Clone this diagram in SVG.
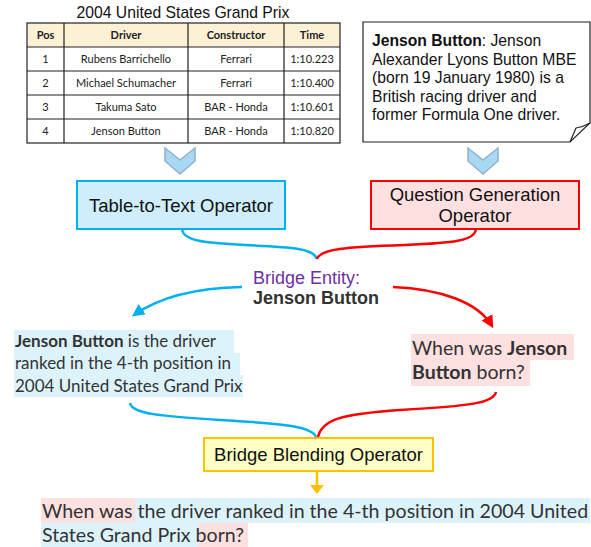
<svg xmlns="http://www.w3.org/2000/svg" width="591" height="547" viewBox="0 0 591 547">
<style>
.arial{font-family:"Liberation Sans",Arial,sans-serif}
.ss{font-family:Lato,"Open Sans",sans-serif}
.cell{font-family:Lato,sans-serif;font-size:11px;fill:#222;text-anchor:middle}
.hdr{font-weight:bold}
.grid{stroke:#222;stroke-width:1.2;fill:none}
.chev{fill:#a9d8f2;stroke:#8fb2cc;stroke-width:1.5}
.blue{stroke:#00b0f0;stroke-width:2.5;fill:none}
.red{stroke:#ff0000;stroke-width:2.5;fill:none}
.hb{fill:#ddf3fc}
.hp{fill:#fde0e0}
</style>
<defs>
<marker id="ab" viewBox="0 0 10 10" refX="8" refY="5" markerWidth="5" markerHeight="5" orient="auto" markerUnits="strokeWidth"><path d="M0,0 L10,5 L0,10 Z" fill="#00b0f0"/></marker>
<marker id="ar" viewBox="0 0 10 10" refX="8" refY="5" markerWidth="5" markerHeight="5" orient="auto" markerUnits="strokeWidth"><path d="M0,0 L10,5 L0,10 Z" fill="#ff0000"/></marker>
</defs>
<rect width="591" height="547" fill="#fff"/>

<g id="table">
<text class="arial" x="183" y="18" font-size="15.7" text-anchor="middle" fill="#111">2004 United States Grand Prix</text>
<rect x="27" y="23" width="313" height="24" fill="#fdf1d5"/>
<rect x="27" y="23" width="313" height="120" class="grid"/>
<path class="grid" d="M27,47H340M27,71H340M27,95H340M27,119H340M64,23V143M188,23V143M284,23V143"/>
<g class="cell">
<text class="hdr" x="45.5" y="39">Pos</text><text class="hdr" x="126" y="39">Driver</text><text class="hdr" x="236" y="39">Constructor</text><text class="hdr" x="312" y="39">Time</text>
<text x="45.5" y="63">1</text><text x="126" y="63">Rubens Barrichello</text><text x="236" y="63">Ferrari</text><text x="312" y="63">1:10.223</text>
<text x="45.5" y="87">2</text><text x="126" y="87">Michael Schumacher</text><text x="236" y="87">Ferrari</text><text x="312" y="87">1:10.400</text>
<text x="45.5" y="111">3</text><text x="126" y="111">Takuma Sato</text><text x="236" y="111">BAR - Honda</text><text x="312" y="111">1:10.601</text>
<text x="45.5" y="135">4</text><text x="126" y="135">Jenson Button</text><text x="236" y="135">BAR - Honda</text><text x="312" y="135">1:10.820</text>
</g>
</g>

<g id="passage">
<path d="M363,22H590V123L570,142H363Z" fill="#fff" stroke="#222" stroke-width="1.2"/>
<path d="M570,142L576,128Q583,127 590,123" fill="none" stroke="#222" stroke-width="1.2"/>
<g class="arial" font-size="15.7" fill="#111">
<text x="372" y="46"><tspan font-weight="bold">Jenson Button</tspan>: Jenson</text>
<text x="372" y="64.5">Alexander Lyons Button MBE</text>
<text x="372" y="83">(born 19 January 1980) is a</text>
<text x="372" y="101.5">British racing driver and</text>
<text x="372" y="120">former Formula One driver.</text>
</g>
</g>

<g id="chevrons">
<path class="chev" d="M165,148L180,160L195,148V161L180,174L165,161Z"/>
<path class="chev" d="M468,148L483,160L498,148V161L483,174L468,161Z"/>
</g>

<g id="t2t">
<rect x="77" y="181" width="208" height="48" fill="#cdeefa" stroke="#00b0f0" stroke-width="2"/>
<text class="arial" x="181" y="212" font-size="18.5" text-anchor="middle" fill="#111">Table-to-Text Operator</text>
</g>

<g id="qg">
<rect x="371" y="181" width="208" height="48" fill="#ffe0e0" stroke="#ff0000" stroke-width="2"/>
<text class="arial" x="475" y="201" font-size="18.5" text-anchor="middle" fill="#111">Question Generation</text>
<text class="arial" x="475" y="222" font-size="18.5" text-anchor="middle" fill="#111">Operator</text>
</g>

<g id="bridge">
<text class="arial" x="253" y="284" font-size="18" fill="#7030a0">Bridge Entity:</text>
<text class="arial" x="253" y="304" font-size="18" font-weight="bold" fill="#333">Jenson Button</text>
</g>

<g id="left-text">
<rect class="hb" x="14" y="330" width="220" height="23"/>
<rect class="hb" x="14" y="353" width="226" height="22"/>
<rect class="hb" x="14" y="375" width="229" height="22"/>
<g class="ss" font-size="17" fill="#333">
<text x="15" y="347"><tspan font-weight="bold">Jenson Button</tspan> is the  driver</text>
<text x="15" y="369">ranked in the 4-th position in</text>
<text x="15" y="392">2004 United States Grand Prix</text>
</g>
</g>

<g id="right-text">
<rect class="hp" x="411" y="334" width="163" height="26"/>
<rect class="hp" x="411" y="360" width="119" height="26"/>
<g class="ss" font-size="19.5" fill="#333">
<text x="412" y="355">When was <tspan font-weight="bold">Jenson</tspan></text>
<text x="412" y="379"><tspan font-weight="bold">Button</tspan> born?</text>
</g>
</g>

<g id="blending">
<rect x="204" y="438" width="229" height="33" fill="#ffffc6" stroke="#ffc000" stroke-width="2"/>
<text class="arial" x="318.5" y="461" font-size="18.5" text-anchor="middle" fill="#111">Bridge Blending Operator</text>
</g>

<g id="output">
<rect class="hp" x="41" y="498" width="94" height="25"/>
<rect class="hb" x="135" y="498" width="455" height="25"/>
<rect class="hb" x="41" y="523" width="157" height="24"/>
<rect class="hp" x="198" y="523" width="50" height="24"/>
<g class="ss" font-size="19.6" fill="#333">
<text x="42" y="518">When was the driver ranked in the 4-th position in 2004 United</text>
<text x="42" y="542">States Grand Prix born?</text>
</g>
</g>

<g id="connectors">
<path class="blue" d="M182,229C183,241 205,243 245,245C295,247 314,249 317,259"/>
<path class="red" d="M476,229C475,241 452,243 405,245C345,247 320,249 317,259"/>
<path class="blue" d="M242,287C195,288 158,298 134,315" marker-end="url(#ab)"/>
<path class="red" d="M393,287C440,289 478,302 492,326" marker-end="url(#ar)"/>
<path class="blue" d="M130,403C132,414 160,416 220,420C290,424 312,427 316,437"/>
<path class="red" d="M496,392C494,403 470,406 400,410C340,414 322,420 318,437"/>
<path d="M317,471V486" stroke="#ffc000" stroke-width="2.5"/>
<path d="M310,485L324,485L317,494Z" fill="#ffc000"/>
</g>
</svg>
